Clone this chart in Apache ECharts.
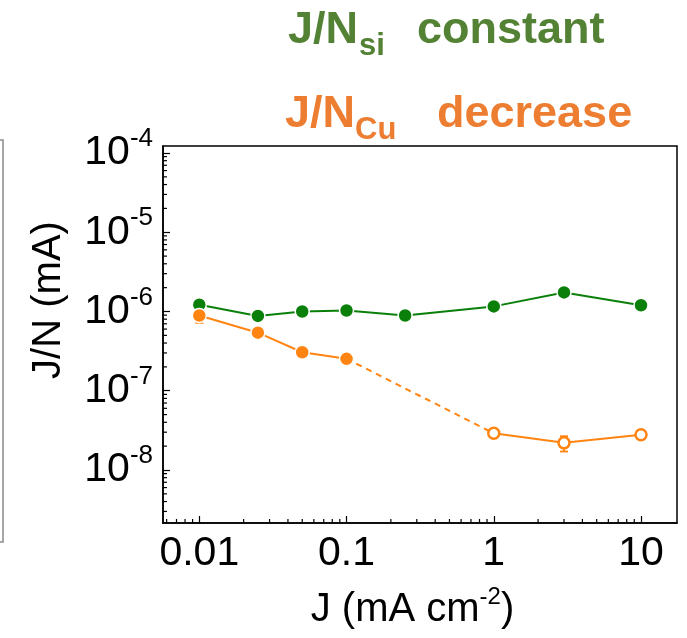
<!DOCTYPE html>
<html>
<head>
<meta charset="utf-8">
<script src="https://cdn.jsdelivr.net/npm/echarts@6/dist/echarts.min.js"></script>
<style>
  html, body { margin: 0; padding: 0; background: #fff; }
  #chart { width: 687px; height: 638px; }
</style>
</head>
<body>
<div id="chart"></div>
<script>
// Current density J (mA cm^-2) and J/N (mA) for the Si and Cu series
const currentSi = [0.01, 0.025, 0.05, 0.1, 0.25, 1, 3, 10];
const jnSi = [1.22e-6, 0.88e-6, 1.0e-6, 1.03e-6, 0.89e-6, 1.16e-6, 1.74e-6, 1.2e-6];

const currentCu = [0.01, 0.025, 0.05, 0.1, 1, 3, 10];
const jnCu = [0.89e-6, 0.54e-6, 0.306e-6, 0.253e-6, 2.91e-8, 2.2e-8, 2.78e-8];
const jnCuLow = [0.72e-6, 0.51e-6, 0.292e-6, 0.243e-6, 2.75e-8, 1.71e-8, 2.62e-8];
const jnCuHigh = [1.05e-6, 0.57e-6, 0.32e-6, 0.263e-6, 3.08e-8, 2.67e-8, 2.95e-8];

// Axis ranges (log10 of the ends)
const xLogRange = [-2.2466, 1.2445];
const yLogRange = [-8.6688, -3.9117];

const xTickLabels = ['0.01', '0.1', '1', '10'];
const yTickExponents = [-8, -7, -6, -5, -4];

const GREEN = '#0a800a';
const ORANGE = '#ff8412';
const FONT = '"Liberation Sans", Arial, sans-serif';

const xMin = Math.pow(10, xLogRange[0]);
const xMax = Math.pow(10, xLogRange[1]);
const yMin = Math.pow(10, yLogRange[0]);
const yMax = Math.pow(10, yLogRange[1]);

// Log-style minor ticks (2..9 within each decade) inside the axis range
function minorTicks(lo, hi) {
  const out = [];
  for (let e = Math.floor(Math.log10(lo)) - 1; e <= Math.ceil(Math.log10(hi)); e++) {
    for (let k = 2; k <= 9; k++) {
      const v = k * Math.pow(10, e);
      if (v > lo && v < hi) out.push(v);
    }
  }
  return out;
}
const minorTickData = []
  .concat(minorTicks(xMin, xMax).map(v => [v, 0]))
  .concat(minorTicks(yMin, yMax).map(v => [v, 1]));

const siPoints = currentSi.map((x, i) => [x, jnSi[i]]);
const cuPoints = currentCu.map((x, i) => [x, jnCu[i]]);
const cuErr = currentCu.map((x, i) => [x, jnCuLow[i], jnCuHigh[i]]);

function isDecade(v) {
  const l = Math.log10(v);
  return Math.abs(l - Math.round(l)) < 1e-6;
}

const chart = echarts.init(document.getElementById('chart'), null, { renderer: 'canvas' });

chart.setOption({
  animation: false,
  backgroundColor: '#fff',
  grid: {
    left: 163, right: 10, top: 146, bottom: 115,
    show: true, borderColor: '#000', borderWidth: 1.5, backgroundColor: 'transparent'
  },
  xAxis: {
    type: 'log',
    min: xMin, max: xMax,
    splitLine: { show: false },
    axisLine: { lineStyle: { color: '#000', width: 1.5 } },
    axisTick: { inside: true, length: 7, lineStyle: { color: '#000', width: 1.2 } },
    axisLabel: {
      showMinLabel: false, showMaxLabel: false,
      margin: 10, color: '#000', fontSize: 41, fontFamily: FONT,
      formatter: function (v) {
        if (!isDecade(v)) return '';
        const s = String(Number(v.toPrecision(6)));
        return xTickLabels.indexOf(s) >= 0 ? s : '';
      }
    },
    name: '{a|J (mA cm}{s|-2}{a|)}',
    nameLocation: 'middle',
    nameGap: 62,
    nameTextStyle: {
      padding: [0, 15, 0, 0],
      rich: {
        a: { fontSize: 40, fontFamily: FONT, color: '#000', lineHeight: 50 },
        s: { fontSize: 24, fontFamily: FONT, color: '#000', lineHeight: 24, verticalAlign: 'top' }
      }
    }
  },
  yAxis: {
    type: 'log',
    min: yMin, max: yMax,
    splitLine: { show: false },
    axisLine: { lineStyle: { color: '#000', width: 1.5 } },
    axisTick: { inside: true, length: 7, lineStyle: { color: '#000', width: 1.2 } },
    axisLabel: {
      showMinLabel: false, showMaxLabel: false,
      margin: 10,
      formatter: function (v) {
        if (!isDecade(v)) return '';
        const e = Math.round(Math.log10(v));
        if (yTickExponents.indexOf(e) < 0) return '';
        return '{b|10}{s|' + e + '}';
      },
      rich: {
        b: { fontSize: 41, fontFamily: FONT, color: '#000', lineHeight: 54 },
        s: { fontSize: 26, fontFamily: FONT, color: '#000', lineHeight: 26, verticalAlign: 'top' }
      }
    },
    name: 'J/N (mA)',
    nameLocation: 'middle',
    nameGap: 94,
    nameTextStyle: {
      fontSize: 40, fontFamily: FONT, color: '#000',
      padding: [0, 0, 0, 69]
    }
  },
  graphic: [
    { type: 'polyline', shape: { points: [[0, 140], [3, 140], [3, 542], [0, 542]] },
      style: { stroke: '#8a8a8a', lineWidth: 1.5, fill: null } },
    { type: 'text', x: 288, y: 31, style: { text: 'J/N', fill: '#548235', font: 'bold 45px ' + FONT, verticalAlign: 'middle' } },
    { type: 'text', x: 359, y: 46, style: { text: 'si', fill: '#548235', font: 'bold 31px ' + FONT, verticalAlign: 'middle' } },
    { type: 'text', x: 417, y: 31, style: { text: 'constant', fill: '#548235', font: 'bold 45px ' + FONT, verticalAlign: 'middle' } },
    { type: 'text', x: 285, y: 115, style: { text: 'J/N', fill: '#ed7d31', font: 'bold 45px ' + FONT, verticalAlign: 'middle' } },
    { type: 'text', x: 355, y: 130, style: { text: 'Cu', fill: '#ed7d31', font: 'bold 31px ' + FONT, verticalAlign: 'middle' } },
    { type: 'text', x: 437, y: 115, style: { text: 'decrease', fill: '#ed7d31', font: 'bold 45px ' + FONT, verticalAlign: 'middle' } }
  ],
  series: [
    {
      // log-style minor ticks on the left and bottom axes
      type: 'custom',
      data: minorTickData,
      silent: true,
      z: 1,
      renderItem: function (params, api) {
        const v = api.value(0);
        if (api.value(1) === 1) {
          const p = api.coord([xMin, v]);
          return { type: 'line', shape: { x1: p[0], y1: p[1], x2: p[0] + 4, y2: p[1] },
                   style: { stroke: '#000', lineWidth: 1.2 } };
        }
        const p = api.coord([v, yMin]);
        return { type: 'line', shape: { x1: p[0], y1: p[1], x2: p[0], y2: p[1] - 4 },
                 style: { stroke: '#000', lineWidth: 1.2 } };
      }
    },
    {
      // error bars on the Cu series
      type: 'custom',
      data: cuErr,
      silent: true,
      z: 2,
      renderItem: function (params, api) {
        const lo = api.coord([api.value(0), api.value(1)]);
        const hi = api.coord([api.value(0), api.value(2)]);
        const st = { stroke: ORANGE, lineWidth: 1.8 };
        return {
          type: 'group',
          children: [
            { type: 'line', shape: { x1: lo[0], y1: lo[1], x2: hi[0], y2: hi[1] }, style: st },
            { type: 'line', shape: { x1: lo[0] - 4, y1: lo[1], x2: lo[0] + 4, y2: lo[1] }, style: st },
            { type: 'line', shape: { x1: hi[0] - 4, y1: hi[1], x2: hi[0] + 4, y2: hi[1] }, style: st }
          ]
        };
      }
    },
    {
      name: 'J/N Si',
      type: 'line',
      data: siPoints,
      z: 4,
      symbol: 'circle',
      symbolSize: 14,
      lineStyle: { color: GREEN, width: 2 },
      itemStyle: { color: GREEN, borderColor: '#fff', borderWidth: 1.5 }
    },
    {
      name: 'J/N Cu dashed',
      type: 'line',
      data: cuPoints.slice(3, 5),
      z: 3,
      symbol: 'none',
      lineStyle: { color: ORANGE, width: 2, type: [6, 5] }
    },
    {
      name: 'J/N Cu',
      type: 'line',
      data: cuPoints.slice(0, 4),
      z: 4,
      symbol: 'circle',
      symbolSize: 14,
      lineStyle: { color: ORANGE, width: 2 },
      itemStyle: { color: ORANGE, borderColor: '#fff', borderWidth: 1.5 }
    },
    {
      name: 'J/N Cu high J',
      type: 'line',
      data: cuPoints.slice(4),
      z: 4,
      symbol: 'circle',
      symbolSize: 11,
      lineStyle: { color: ORANGE, width: 2 },
      itemStyle: { color: '#fff', borderColor: ORANGE, borderWidth: 2.5 }
    }
  ]
});
</script>
</body>
</html>
